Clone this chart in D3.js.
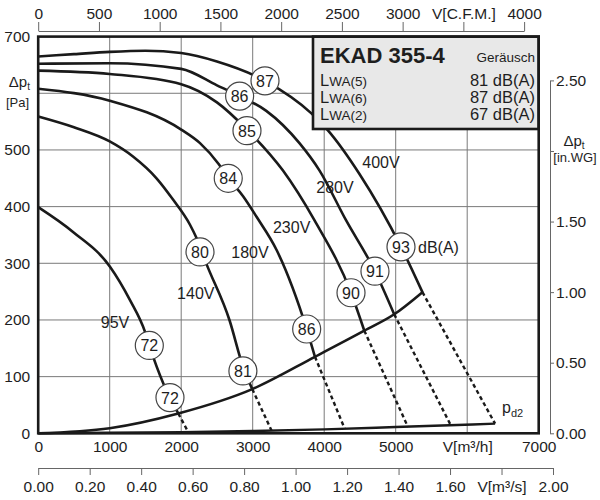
<!DOCTYPE html>
<html>
<head>
<meta charset="utf-8">
<script src="https://cdn.jsdelivr.net/npm/d3@7"></script>
<style>
	body { margin: 0; background: #fff; }
	svg text { font-family: "Liberation Sans", Arial, sans-serif; fill: #1e1e1e; }
</style>
</head>
<body>
<svg id="chart"></svg>
<script>
// fan curves, [V m3/h, dp Pa], solid part up to the system line
var curve400 = [[0, 665], [500, 669], [1000, 673], [1500, 675], [2000, 671], [2500, 656], [3172, 622], [3817, 565], [4049, 535], [4491, 458], [5074, 329], [5374, 249]]
var curve280 = [[0, 652], [1000, 653], [2000, 643], [2500, 614], [2817, 595], [3190, 569], [3654, 512], [3933, 464], [4305, 376], [4710, 286], [4979, 210]]
var curve230 = [[0, 640], [1000, 634], [2000, 616], [2500, 584], [2920, 536], [3421, 464], [3863, 376], [4375, 248], [4561, 181]]
var curve180 = [[0, 608], [1000, 587], [2000, 536], [2263, 512], [2518, 476], [2658, 450], [2868, 418], [3054, 382], [3336, 323], [3755, 184], [3871, 135]]
var curve140 = [[0, 559], [500, 540], [1000, 515], [1330, 488], [1655, 450], [1888, 412], [2123, 368], [2216, 344], [2353, 299], [2677, 199], [2863, 118], [2994, 78]]
var curve95 = [[0, 399], [500, 354], [1004, 294], [1284, 235], [1494, 179], [1554, 155], [1750, 88], [1843, 63], [1959, 35]]

// dashed continuation below the system line
var dash400 = [[5374, 249], [6390, 17]]
var dash280 = [[4979, 210], [5775, 13]]
var dash230 = [[4561, 181], [5172, 11]]
var dash180 = [[3871, 135], [4287, 8]]
var dash140 = [[2994, 78], [3263, 5]]
var dash95 = [[1959, 35], [2099, 2]]

var systemLine = [[0, 0], [1000, 9], [1959, 35], [2994, 78], [3871, 135], [4561, 181], [4979, 210], [5374, 249]]
var pd2Line = [[0, 0], [1000, 1], [2000, 2], [3000, 4], [4000, 7], [5000, 11], [6390, 17]]

var voltLabels = ["400V", "280V", "230V", "180V", "140V", "95V"]
var voltLabelAt = [[4794, 478], [4151, 434], [3545, 364], [2962, 319], [2204, 246], [1074, 195]]

// sound power marks [V, dp, dB(A)]
var noiseMarks = [[3172, 622, 87], [5074, 329, 93], [2817, 595, 86], [4710, 286, 91], [2920, 534, 85], [4375, 248, 90],
	[2658, 450, 84], [3755, 184, 86], [2263, 320, 80], [2863, 110, 81], [1554, 155, 72], [1843, 63, 72]]

var paTicks = [0, 100, 200, 300, 400, 500, 600, 700]
var flowTicks = [0, 1000, 2000, 3000, 4000, 5000, 6000, 7000]
var cfmTicks = [0, 500, 1000, 1500, 2000, 2500, 3000, 3500, 4000]
var m3sTicks = [0, 0.2, 0.4, 0.6, 0.8, 1.0, 1.2, 1.4, 1.6, 1.8, 2.0]
var inwgTicks = [0, 0.5, 1, 1.5, 2, 2.5]

var model = "EKAD 355-4"
var soundKeys = ["WA(5)", "WA(6)", "WA(2)"]
var soundLevels = [81, 87, 67]

var width = 600
var height = 500

var x = d3.scaleLinear().domain([0, 7000]).range([38.2, 538.7])
var y = d3.scaleLinear().domain([0, 700]).range([433.3, 36.6])
var xCfm = d3.scaleLinear().domain([0, 4000]).range([x(0), x(4000 * 1.699)])
var xM3s = d3.scaleLinear().domain([0, 2]).range([x(0), x(7200)])
var yWg = d3.scaleLinear().domain([0, 2.5]).range([y(0), y(2.5 * 249.09)])

var svg = d3.select("#chart").attr("width", width).attr("height", height)

// grid
svg
	.selectAll(".vgrid")
	.data(flowTicks.slice(1, -1))
	.enter()
	.append("line")
	.attr("x1", d => x(d))
	.attr("x2", d => x(d))
	.attr("y1", y(700))
	.attr("y2", y(0))
	.attr("stroke", "#7a7a7a")
	.attr("stroke-width", 1)

svg
	.selectAll(".hgrid")
	.data(paTicks.slice(1, -1))
	.enter()
	.append("line")
	.attr("x1", x(0))
	.attr("x2", x(7000))
	.attr("y1", d => y(d))
	.attr("y2", d => y(d))
	.attr("stroke", "#7a7a7a")
	.attr("stroke-width", 1)

var line = d3
	.line()
	.x(d => x(d[0]))
	.y(d => y(d[1]))
	.curve(d3.curveMonotoneX)

var straight = d3
	.line()
	.x(d => x(d[0]))
	.y(d => y(d[1]))

svg
	.selectAll(".fan")
	.data([curve400, curve280, curve230, curve180, curve140, curve95])
	.enter()
	.append("path")
	.attr("d", line)
	.attr("fill", "none")
	.attr("stroke", "#1a1a1a")
	.attr("stroke-width", 2.6)

svg
	.selectAll(".dash")
	.data([dash400, dash280, dash230, dash180, dash140, dash95])
	.enter()
	.append("path")
	.attr("d", straight)
	.attr("fill", "none")
	.attr("stroke", "#1a1a1a")
	.attr("stroke-width", 2.4)
	.attr("stroke-dasharray", "4,3")

svg
	.append("path")
	.attr("d", line(systemLine))
	.attr("fill", "none")
	.attr("stroke", "#1a1a1a")
	.attr("stroke-width", 2.6)

svg
	.append("path")
	.attr("d", line(pd2Line))
	.attr("fill", "none")
	.attr("stroke", "#1a1a1a")
	.attr("stroke-width", 2.4)

svg
	.append("text")
	.attr("x", x(6390) + 7)
	.attr("y", y(17) - 11)
	.attr("font-size", 16)
	.text("p")
	.append("tspan")
	.attr("font-size", 11)
	.attr("dy", 4)
	.text("d2")

// voltage labels
svg
	.selectAll(".volt")
	.data(voltLabels)
	.enter()
	.append("text")
	.attr("x", (d, i) => x(voltLabelAt[i][0]))
	.attr("y", (d, i) => y(voltLabelAt[i][1]) + 5.5)
	.attr("text-anchor", "middle")
	.attr("font-size", 16)
	.text(d => d)

// legend box
var box = svg.append("g")

box
	.append("rect")
	.attr("x", 313)
	.attr("y", y(700))
	.attr("width", x(7000) - 313)
	.attr("height", 129 - y(700))
	.attr("fill", "#e8e8e8")
	.attr("stroke", "#1a1a1a")
	.attr("stroke-width", 2.6)

box
	.append("text")
	.attr("x", 320)
	.attr("y", 63)
	.attr("font-size", 22)
	.attr("font-weight", "bold")
	.text(model)

box
	.append("text")
	.attr("x", 535)
	.attr("y", 62)
	.attr("font-size", 13.5)
	.attr("text-anchor", "end")
	.text("Geräusch")

var rows = box
	.selectAll(".row")
	.data(soundKeys)
	.enter()
	.append("g")
	.attr("transform", (d, i) => "translate(0," + (85.5 + i * 17.3) + ")")

rows
	.append("text")
	.attr("x", 320)
	.attr("font-size", 16.5)
	.text("L")
	.append("tspan")
	.attr("font-size", 13.5)
	.text(d => d)

rows
	.append("text")
	.attr("x", 535)
	.attr("font-size", 16.5)
	.attr("text-anchor", "end")
	.text((d, i) => soundLevels[i] + " dB(A)")

// noise circles
var marks = svg
	.selectAll(".mark")
	.data(noiseMarks)
	.enter()
	.append("g")
	.attr("transform", d => "translate(" + x(d[0]) + "," + y(d[1]) + ")")

marks
	.append("circle")
	.attr("r", 14)
	.attr("fill", "#fff")
	.attr("stroke", "#444")
	.attr("stroke-width", 1.2)

marks
	.append("text")
	.attr("text-anchor", "middle")
	.attr("y", 6)
	.attr("font-size", 16)
	.text(d => d[2])

svg
	.append("text")
	.attr("x", x(noiseMarks[1][0]) + 17)
	.attr("y", y(noiseMarks[1][1]) + 6)
	.attr("font-size", 16)
	.text("dB(A)")

// frame
svg
	.append("rect")
	.attr("x", x(0))
	.attr("y", y(700))
	.attr("width", x(7000) - x(0))
	.attr("height", y(0) - y(700))
	.attr("fill", "none")
	.attr("stroke", "#1a1a1a")
	.attr("stroke-width", 2.6)

// axes
function styleAxis(g) {
	g.attr("font-family", null).attr("font-size", 15.5)
	g.selectAll("line").attr("stroke", "#666")
	g.select(".domain").attr("stroke", "#666")
}

svg
	.append("g")
	.attr("transform", "translate(0,31)")
	.call(
		d3
			.axisTop(xCfm)
			.tickValues(cfmTicks)
			.tickSize(9)
			.tickSizeOuter(0)
			.tickPadding(3)
			.tickFormat(d => (d == 3500 ? "V[C.F.M.]" : d))
	)
	.call(styleAxis)

svg
	.append("g")
	.attr("transform", "translate(0," + y(0) + ")")
	.call(
		d3
			.axisBottom(x)
			.tickValues(flowTicks)
			.tickSize(0)
			.tickPadding(8)
			.tickFormat(d => (d == 6000 ? "V[m³/h]" : d))
	)
	.call(styleAxis)
	.call(g => g.select(".domain").remove())

svg
	.append("g")
	.attr("transform", "translate(0,468)")
	.call(
		d3
			.axisBottom(xM3s)
			.tickValues(m3sTicks)
			.tickSize(7)
			.tickSizeOuter(0)
			.tickPadding(6)
			.tickFormat(d => (Math.abs(d - 1.8) < 1e-6 ? "V[m³/s]" : d3.format(".2f")(d)))
	)
	.call(styleAxis)

svg
	.append("g")
	.attr("transform", "translate(" + x(0) + ",0)")
	.call(
		d3
			.axisLeft(y)
			.tickValues(paTicks)
			.tickSize(0)
			.tickPadding(8)
			.tickFormat(d => (d == 600 ? "" : d))
	)
	.call(styleAxis)
	.call(g => g.select(".domain").remove())

svg
	.append("g")
	.attr("transform", "translate(550,0)")
	.call(
		d3
			.axisRight(yWg)
			.tickValues(inwgTicks)
			.tickSize(4)
			.tickSizeOuter(0)
			.tickPadding(2)
			.tickFormat(d => (d == 2 ? "" : d3.format(".2f")(d)))
	)
	.call(styleAxis)

// axis titles
svg
	.append("text")
	.attr("x", 30)
	.attr("y", y(600) - 6)
	.attr("text-anchor", "end")
	.attr("font-size", 15)
	.text("Δp")
	.append("tspan")
	.attr("font-size", 10)
	.attr("dy", 3)
	.text("t")

svg
	.append("text")
	.attr("x", 29)
	.attr("y", y(600) + 14)
	.attr("text-anchor", "end")
	.attr("font-size", 13)
	.text("[Pa]")

svg
	.append("text")
	.attr("x", 574)
	.attr("y", yWg(2) - 5)
	.attr("text-anchor", "middle")
	.attr("font-size", 15)
	.text("Δp")
	.append("tspan")
	.attr("font-size", 10)
	.attr("dy", 3)
	.text("t")

svg
	.append("text")
	.attr("x", 575)
	.attr("y", yWg(2) + 11)
	.attr("text-anchor", "middle")
	.attr("font-size", 13)
	.text("[in.WG]")
</script>
</body>
</html>
